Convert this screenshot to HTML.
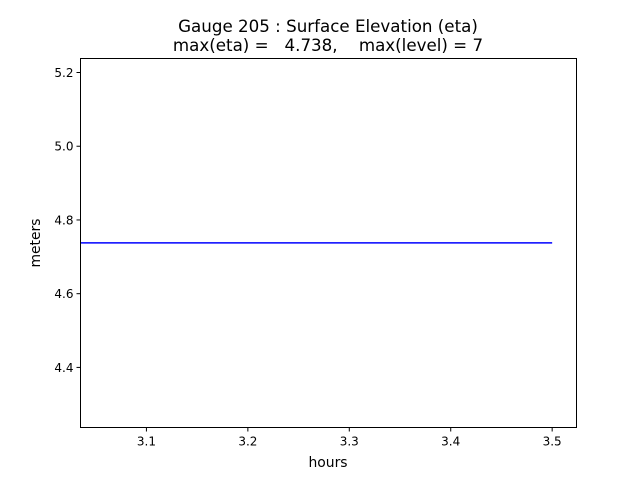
<!DOCTYPE html>
<html><head><meta charset="utf-8"><style>
body{margin:0;background:#fff}
text{font-family:"DejaVu Sans","Liberation Sans",sans-serif;fill:#000}
</style></head><body>
<svg id="chart" width="640" height="480" xmlns="http://www.w3.org/2000/svg">
<rect width="640" height="480" fill="#fff"/>
<text x="328" y="32" font-size="16.7" text-anchor="middle">Gauge 205 : Surface Elevation (eta)</text>
<text x="328" y="51" font-size="16.7" text-anchor="middle" xml:space="preserve">max(eta) =   4.738,    max(level) = 7</text>
<g id="plot"></g>
<rect x="80.5" y="58.5" width="496" height="369" fill="none" stroke="#000" stroke-width="1"/>
<text x="328" y="467" font-size="13.9" text-anchor="middle">hours</text>
<text transform="translate(40,243) rotate(-90)" font-size="13.9" text-anchor="middle">meters</text>
</svg>
<script>
const times=[3.035,3.1,3.2,3.3,3.4,3.5];
const eta=[4.738,4.738,4.738,4.738,4.738,4.738];
const xTicks=[3.1,3.2,3.3,3.4,3.5];
const yTicks=[4.4,4.6,4.8,5.0,5.2];
const X0=80.5,X1=576.5,Y0=427.5,Y1=58.5;
const xMin=3.035,xMax=3.524,yMin=4.237,yMax=5.238;
function sx(v){return X0+(v-xMin)/(xMax-xMin)*(X1-X0);}
function sy(v){return Y0-(v-yMin)/(yMax-yMin)*(Y0-Y1);}
const NS="http://www.w3.org/2000/svg";
const g=document.getElementById('plot');
function mk(t,a){const e=document.createElementNS(NS,t);for(const k in a)e.setAttribute(k,a[k]);g.appendChild(e);return e;}
xTicks.forEach(v=>{
  const x=sx(v);
  const l=mk('line',{x1:x,x2:x,y1:Y0,y2:Y0+4,stroke:'#000'});
  
  
  const t=mk('text',{x:x,y:Y0+18,'font-size':12,'text-anchor':'middle'});
  t.textContent=v.toFixed(1);
  
  
});
yTicks.forEach(v=>{
  const y=sy(v);
  const l=mk('line',{x1:X0-4,x2:X0,y1:y,y2:y,stroke:'#000'});
  
  
  const t=mk('text',{x:X0-7,y:y+4.5,'font-size':12,'text-anchor':'end'});
  t.textContent=v.toFixed(1);
  
  
});
const p=mk('polyline',{points:times.map((t,i)=>sx(t)+','+sy(eta[i])).join(' '),fill:'none',stroke:'#0000ff','stroke-width':1.5});


</script>
</body></html>
